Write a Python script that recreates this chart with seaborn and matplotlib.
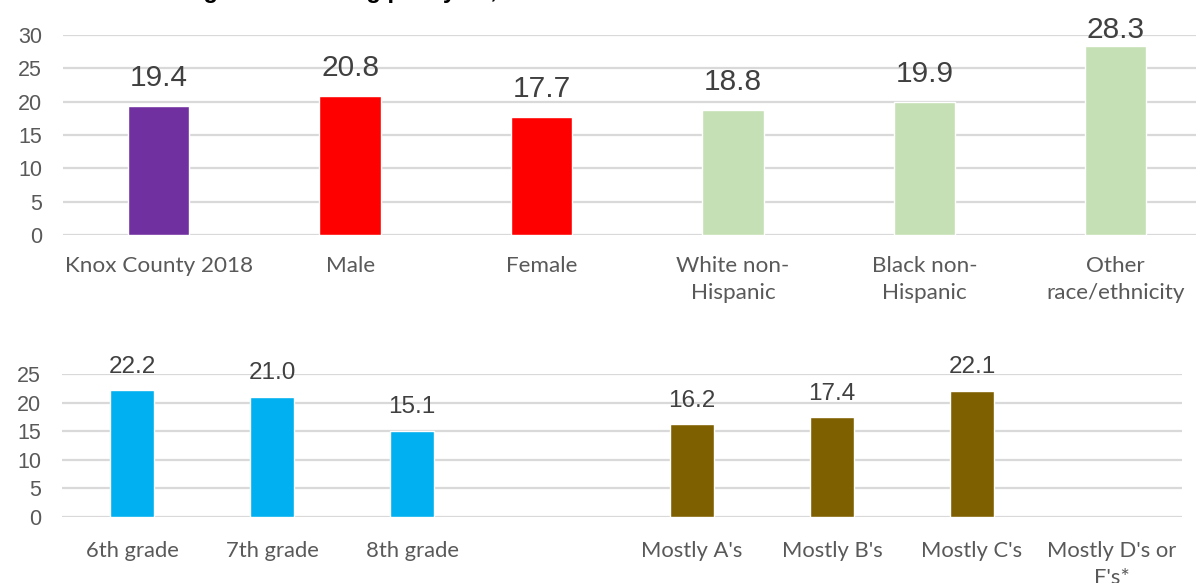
import matplotlib
matplotlib.use("Agg")
import matplotlib.pyplot as plt
import seaborn as sns
import pandas as pd

# Upper panel: overall, sex and race/ethnicity
top_categories = ["Knox County 2018", "Male", "Female",
                  "White non-\nHispanic", "Black non-\nHispanic", "Other\nrace/ethnicity"]
top_values = [19.4, 20.8, 17.7, 18.8, 19.9, 28.3]
top_colors = ["#7030A0", "#FF0000", "#FF0000", "#C5E0B4", "#C5E0B4", "#C5E0B4"]
top_ticks = [0, 5, 10, 15, 20, 25, 30]

# Lower panel: grade and school grades (blank slot separates the two groups)
bottom_order = ["6th grade", "7th grade", "8th grade", " ",
                "Mostly A's", "Mostly B's", "Mostly C's", "Mostly D's or\nF's*"]
bottom_categories = ["6th grade", "7th grade", "8th grade",
                     "Mostly A's", "Mostly B's", "Mostly C's"]
bottom_values = [22.2, 21.0, 15.1, 16.2, 17.4, 22.1]
bottom_colors = ["#00B0F0", "#00B0F0", "#00B0F0", "#7F6000", "#7F6000", "#7F6000"]
bottom_ticks = [0, 5, 10, 15, 20, 25]

title = "Percent being bullied during past year, 2018"

sns.set_style("white")
plt.rcParams["font.family"] = ["Liberation Sans", "DejaVu Sans"]

W, H = 1196, 583
DPI = 100
fig = plt.figure(figsize=(W / DPI, H / DPI), dpi=DPI)

GRID = "#D9D9D9"
TICK = "#595959"
LABEL = "#404040"
CAT_FONT = "Lato"


def px_axes(left, top, right, bottom):
    return fig.add_axes([left / W, 1 - bottom / H, (right - left) / W, (bottom - top) / H])


def style_axes(ax, ticks, ymax, cat_size, xpad):
    ax.set_ylim(0, ymax)
    ax.set_yticks(ticks)
    ax.yaxis.grid(True, color=GRID, linewidth=1.6)
    ax.set_axisbelow(True)
    for s in ax.spines.values():
        s.set_visible(False)
    ax.tick_params(axis="y", length=0, pad=15, labelsize=15.5, labelcolor=TICK)
    ax.tick_params(axis="x", length=0, pad=xpad, labelcolor=TICK)
    ax.set_xlabel("")
    ax.set_ylabel("")
    for t in ax.get_xticklabels():
        t.set_fontfamily(CAT_FONT)
        t.set_fontsize(cat_size)
        t.set_linespacing(1.45)


def add_value_labels(ax, pad, size, top_limit_px):
    """Label each bar with its value; labels that would run past
    top_limit_px (pixels from the figure top) are pulled down onto the bar."""
    limit_disp = H - top_limit_px
    for c in ax.containers:
        anns = ax.bar_label(c, fmt="%.1f", padding=pad, fontsize=size,
                            color=LABEL, clip_on=False)
        for bar, ann in zip(c, anns):
            top_disp = ax.transData.transform((0, bar.get_height()))[1]
            room_pt = (limit_disp - top_disp) * 72 / DPI
            ann.xyann = (0, max(1.5, min(pad, room_pt)))


# ---- upper panel ----
ax1 = px_axes(63, 35, W, 235)
df_top = pd.DataFrame({"group": top_categories, "pct": top_values})
sns.barplot(data=df_top, x="group", y="pct", hue="group", order=top_categories,
            palette=dict(zip(top_categories, top_colors)), saturation=1,
            width=0.32, legend=False, ax=ax1)
ax1.set_xlim(-0.5, -0.5 + (W - 63) / 191.4)
style_axes(ax1, top_ticks, 30, 16.2, 15)
add_value_labels(ax1, 10, 21.5, 44)

# ---- lower panel ----
ax2 = px_axes(62, 374, 1182, 517)
df_bot = pd.DataFrame({"group": bottom_categories, "pct": bottom_values})
sns.barplot(data=df_bot, x="group", y="pct", hue="group", order=bottom_order,
            palette=dict(zip(bottom_categories, bottom_colors)), saturation=1,
            width=0.31, legend=False, ax=ax2)
ax2.set_xlim(-0.5, 7.5)
style_axes(ax2, bottom_ticks, 25, 15.8, 17)
add_value_labels(ax2, 9, 17.5, 0)

# Chart title sits right at the top edge, only its descenders showing
fig.text(62 / W, 1 + 2 / H, title, fontsize=17, fontweight="bold",
         color="black", va="baseline", ha="left")

fig.savefig("out.png", dpi=DPI, facecolor="white")
